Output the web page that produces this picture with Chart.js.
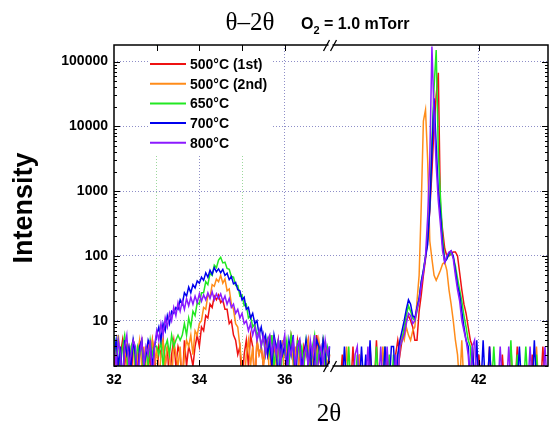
<!DOCTYPE html>
<html>
<head>
<meta charset="utf-8">
<script src="https://cdn.jsdelivr.net/npm/chart.js@4.4.1/dist/chart.umd.min.js"></script>
<style>
  html, body { margin: 0; padding: 0; background: #fff; }
</style>
</head>
<body>
<canvas id="chart" width="550" height="426"></canvas>
<script>
// scan grids (2theta, degrees)
const LEFT_START = 32.0, RIGHT_START = 38.5, STEP = 0.05;
const BREAK_AT = 37.05;               // left segment ends here
const GAP = RIGHT_START - BREAK_AT;   // hidden part of the axis

const seriesNames = ['500\u00B0C (1st)', '500\u00B0C (2nd)', '650\u00B0C', '700\u00B0C', '800\u00B0C'];
const seriesColors = ['#ee1111', '#ff8c1a', '#22e822', '#0000ee', '#8c1aff'];

// 32.00 .. 37.05
const left500a = [2,4,1,3,5,2,4,3,1,5, 3,2,4,5,1,3,4,2,5,3, 1,4,3,5,2,4,1,3,5,2, 4,3,1,5,2,4,3,2,
  4,6,4,8,7,12,11,18,16,24,21,25,19,21,15,15,9,10,6,5,3,4,
  1,3,5,2,6,4,1,5,3,4, 2,5,3,6,1,4,3,5,2,4, 5,1,3,6,4,2,5,3,1,4, 3,5,2,4,1,6,3,2,5,4,1,3];
const left500b = [4,2,6,3,1,5,2,4,3,5, 1,3,5,2,4,1,4,3,5,2, 4,1,3,5,2,4,3,1,5,3, 2,4,1,3,5,
  4,6,3,7,6,9,10,16,15,25,23,36,34,44,40,50,38,44,29,31,18,15,9,8,4,2,1,
  3,5,2,4,1,5,3,4, 2,4,5,1,3,6,2,4,3,5, 1,4,3,5,2,4,1,5,3,2, 4,5,1,3,4,2,5,3,1,4,2,3];
const left650 = [6,3,5,2,4,6,3,1,4,5, 2,4,3,5,1,4,2,5,3,4, 4,3,5,2,4,5,3,6,4,5,6,5,
  6,9,6,11,8,14,12,19,18,27, 27,40,36,54,50,72,66,86,95,78, 80,64,62,48,47,35,35,24,25,17, 18,11,12,8,9,6,7,4,6,3,
  5,3,6,2,4,5,1,4, 3,5,2,6,4,1,5,3,4,2, 5,3,1,4,6,2,4,3,5,2,4,3];
const left700 = [3,5,2,4,1,5,3,4,2,5,3,1,4,5,2,3,5,4,2,4,
  6,8,5,9,7,12,9,14,13,16, 15,21,18,27,24,33,27,36,32,41, 38,47,42,55,47,60,52,66,57,63,
  55,62,50,54,43,48,37,39,30,29, 21,23,15,16,11,13,9,10,6,8,5,6,
  3,5,2,6,4,1,5,3, 4,2,5,3,6,1,4,5,2,3, 5,2,4,1,3,5,4,2,5,3,1,4];
const left800 = [4,2,5,3,1,4,6,2,3,5,4,1,3,5,2,4,3,5,1,4,
  7,5,9,6,11,8,13,10,16,12, 19,14,20,15,22,17,23,18,24,19,
  26,20,25,21,27,22,28,21,26,22, 26,20,24,18,22,16,18,13,15,11,
  13,9,10,7,9,6,8,5,7,4, 6,3,5,6,3,5,
  3,5,2,4,6,1,4,3,5,2,4,5,1,3, 4,2,5,3,6,1,3,4,2,5,3,4];

// 38.50 .. 43.60
const right500a = [1,1,1,1,1,1,3,1,1,1, 1,4,1,1,3,1,1,1,1,4, 1,1,5,1,1,1,1,3,1,1,
  1,3,5,3,5,7,10,12,
  10,8,5,5,14,25,50,90,200,500,2000,10000,
  30000,67000,500,250,130,100,100,110,115,115,100,55,30,
  18,13,8,5,4,1,1,3,
  1,1,1,1,4,1,1,1,1,1, 3,1,1,1,1,1,1,4,1,1, 1,1,1,1,3,1,1,1,1,4, 1,1];
const right500b = [1,1,1,1,1,1,1,1,4,1, 1,1,1,1,3,1,1,1,1,1, 1,1,1,1,1,4,1,1,1,1,
  1,1,1,4,6,5,8,6,
  5,7,8,20,50,600,12000,18000,3000,170,90,50,
  42,50,60,75,80,60,30,18,10,5,3,1,5,
  1,1,1,1,1,1,1,1,
  1,1,1,1,1,1,1,1,1,1, 1,1,1,1,4,1,1,1,1,1, 1,1,1,1,1,1,4,1,1,1, 1,1];
const right650 = [1,1,1,1,1,1,1,1,1,4, 1,1,1,3,1,1,1,1,1,1, 1,1,4,1,1,1,4,1,3,1,
  3,1,3,4,5,8,12,17,
  14,11,10,14,22,40,60,100,180,600,6000,40000,
  150000,4000,800,200,85,90,105,110,95,70,45,30,20,
  12,8,5,4,1,1,1,1,
  1,1,1,1,1,1,4,1,1,1, 1,1,1,1,5,1,1,3,1,1, 1,4,1,1,1,1,3,1,1,1, 1,1];
const right700 = [1,1,1,1,1,1,1,4,1,1, 1,1,1,1,1,4,1,3,1,5, 1,1,1,1,1,1,4,1,1,4,
  4,1,3,5,7,10,15,21,
  18,12,11,16,22,40,60,95,150,550,4000,27000,
  5000,1000,450,150,80,90,110,120,100,60,35,25,14,
  8,5,4,1,4,1,5,1,
  1,5,1,1,4,1,1,1,1,1, 1,1,1,1,1,1,1,1,4,1, 1,1,1,1,1,5,1,1,1,1, 1,1];
const right800 = [1,1,1,1,1,1,1,1,1,1, 1,1,3,4,1,1,1,1,4,1, 1,1,1,1,4,1,1,4,1,1,
  1,3,1,4,5,6,9,13,
  12,9,10,15,20,35,55,100,400,3000,170000,15000,
  2500,700,300,120,80,100,115,120,90,50,30,20,10,
  7,5,3,1,4,5,1,1,
  1,1,1,1,1,1,1,1,1,4, 1,1,1,4,1,1,1,1,1,1, 1,1,1,4,1,1,1,1,1,1, 4,1];

const leftSeries = [left500a, left500b, left650, left700, left800];
const rightSeries = [right500a, right500b, right650, right700, right800];

const xTickValues = [32, 33, 34, 35, 36, 42];
const xTickLabels = ['32', '', '34', '', '36', '42'];
const yDecades = [10, 100, 1000, 10000, 100000];

// map a 2theta value onto the broken axis
function toAxis(t) { return t > BREAK_AT + 1e-9 ? t - GAP : t; }

function buildPoints(leftVals, rightVals) {
  const pts = leftVals.map((v, k) => ({ x: +(LEFT_START + k * STEP).toFixed(2), y: v }));
  pts.push({ x: BREAK_AT, y: null });
  rightVals.forEach((v, k) => pts.push({ x: toAxis(+(RIGHT_START + k * STEP).toFixed(2)), y: v }));
  return pts;
}

const datasets = seriesNames.map((name, i) => ({
  label: name,
  data: buildPoints(leftSeries[i], rightSeries[i]),
  borderColor: seriesColors[i],
  backgroundColor: seriesColors[i],
  borderWidth: 1.5,
  pointRadius: 0,
  tension: 0,
  spanGaps: false,
  order: seriesNames.length - 1 - i
}));

const FONT = '"Liberation Sans", Arial, sans-serif';
const SERIF = '"Liberation Serif", "Times New Roman", serif';

const decor = {
  id: 'decor',
  afterDatasetsDraw(chart) {
    const { ctx, chartArea: a } = chart;
    ctx.save();
    ctx.fillStyle = '#fff';
    ctx.fillRect(148, a.top + 1, 124, 109);
    ctx.font = 'bold 14px ' + FONT;
    ctx.textBaseline = 'middle';
    chart.data.datasets.forEach((ds, i) => {
      const yy = 64 + i * 19.7;
      ctx.strokeStyle = ds.borderColor;
      ctx.lineWidth = 2;
      ctx.beginPath(); ctx.moveTo(150, yy); ctx.lineTo(186, yy); ctx.stroke();
      ctx.fillStyle = '#000';
      ctx.fillText(ds.label, 190, yy + 1);
    });
    ctx.restore();
  },
  afterDraw(chart) {
    const { ctx, chartArea: a, scales: { x, y } } = chart;
    ctx.save();
    ctx.strokeStyle = '#000';
    ctx.lineWidth = 1;
    // minor/major ticks pointing inward
    y.ticks.forEach(t => {
      const py = Math.round(y.getPixelForValue(t.value)) + 0.5;
      const len = t.major ? 6 : 3;
      ctx.beginPath();
      ctx.moveTo(a.left, py); ctx.lineTo(a.left + len, py);
      ctx.moveTo(a.right, py); ctx.lineTo(a.right - len, py);
      ctx.stroke();
    });
    x.ticks.forEach(t => {
      if (t.value === 32) return;
      const px = Math.round(x.getPixelForValue(t.value)) + 0.5;
      ctx.beginPath();
      ctx.moveTo(px, a.top); ctx.lineTo(px, a.top + 6);
      ctx.moveTo(px, a.bottom); ctx.lineTo(px, a.bottom - 6);
      ctx.stroke();
    });
    // frame
    ctx.lineWidth = 1.5;
    ctx.strokeRect(a.left, a.top, a.right - a.left, a.bottom - a.top);

    // axis break marks
    const bx = x.getPixelForValue(BREAK_AT);
    [a.top, a.bottom].forEach(by => {
      ctx.fillStyle = '#fff';
      ctx.fillRect(bx - 1, by - 2, 4, 4);
      ctx.lineWidth = 1.3;
      ctx.beginPath();
      ctx.moveTo(bx - 6, by + 6); ctx.lineTo(bx, by - 5);
      ctx.moveTo(bx + 1, by + 6); ctx.lineTo(bx + 7, by - 5);
      ctx.stroke();
    });

    // titles
    ctx.fillStyle = '#000';
    ctx.textBaseline = 'alphabetic';
    ctx.textAlign = 'center';
    ctx.font = '25px ' + SERIF;
    ctx.fillText('\u03B8\u20132\u03B8', 250, 30);
    ctx.textAlign = 'left';
    ctx.font = 'bold 16px ' + FONT;
    let tx = 301;
    ctx.fillText('O', tx, 29); tx += ctx.measureText('O').width;
    ctx.font = 'bold 11px ' + FONT;
    ctx.fillText('2', tx, 34); tx += ctx.measureText('2').width;
    ctx.font = 'bold 16px ' + FONT;
    ctx.fillText(' = 1.0 mTorr', tx, 29);

    ctx.textAlign = 'center';
    ctx.font = '25px ' + SERIF;
    ctx.fillText('2\u03B8', 329, 421);

    ctx.translate(32, 208);
    ctx.rotate(-Math.PI / 2);
    ctx.font = 'bold 27px ' + FONT;
    ctx.fillText('Intensity', 0, 0);
    ctx.restore();
  }
};

new Chart(document.getElementById('chart'), {
  type: 'line',
  data: { datasets },
  options: {
    responsive: false,
    devicePixelRatio: 1,
    animation: false,
    layout: { padding: { top: 45, right: 2, left: 0, bottom: 0 } },
    plugins: { legend: { display: false }, tooltip: { enabled: false } },
    scales: {
      x: {
        type: 'linear',
        min: 32,
        max: toAxis(43.62),
        afterBuildTicks: s => { s.ticks = xTickValues.map(v => ({ value: toAxis(v) })); },
        afterFit: s => { s.height = 60; },
        ticks: {
          autoSkip: false,
          maxRotation: 0,
          padding: 6,
          color: '#000',
          font: { family: FONT, weight: 'bold', size: 14 },
          callback: (v, i) => xTickLabels[i]
        },
        grid: {
          drawTicks: false,
          lineWidth: 1,
          color: c => {
            if (!c.tick) return 'transparent';
            const v = c.tick.value;
            if (v === 32) return 'transparent';
            return (v === 33 || v === 35) ? '#9cd89c' : '#8e8ec8';
          }
        },
        border: { display: false, dash: [1, 2] }
      },
      y: {
        type: 'logarithmic',
        min: 2,
        max: 180000,
        afterBuildTicks: s => {
          const t = [];
          [1, 10, 100, 1000, 10000, 100000].forEach(d => {
            for (let m = 1; m <= 9; m++) {
              const v = d * m;
              if (v >= 2 && v <= 180000) t.push({ value: v, major: m === 1 });
            }
          });
          s.ticks = t;
        },
        afterFit: s => { s.width = 114; },
        ticks: {
          autoSkip: false,
          padding: 6,
          color: '#000',
          font: { family: FONT, weight: 'bold', size: 14 },
          callback: v => (yDecades.includes(v) ? String(v) : '')
        },
        grid: {
          drawTicks: false,
          lineWidth: 1,
          color: c => (c.tick && yDecades.includes(c.tick.value) ? '#8e8ec8' : 'transparent')
        },
        border: { display: false, dash: [1, 2] }
      }
    }
  },
  plugins: [decor]
});
</script>
</body>
</html>
